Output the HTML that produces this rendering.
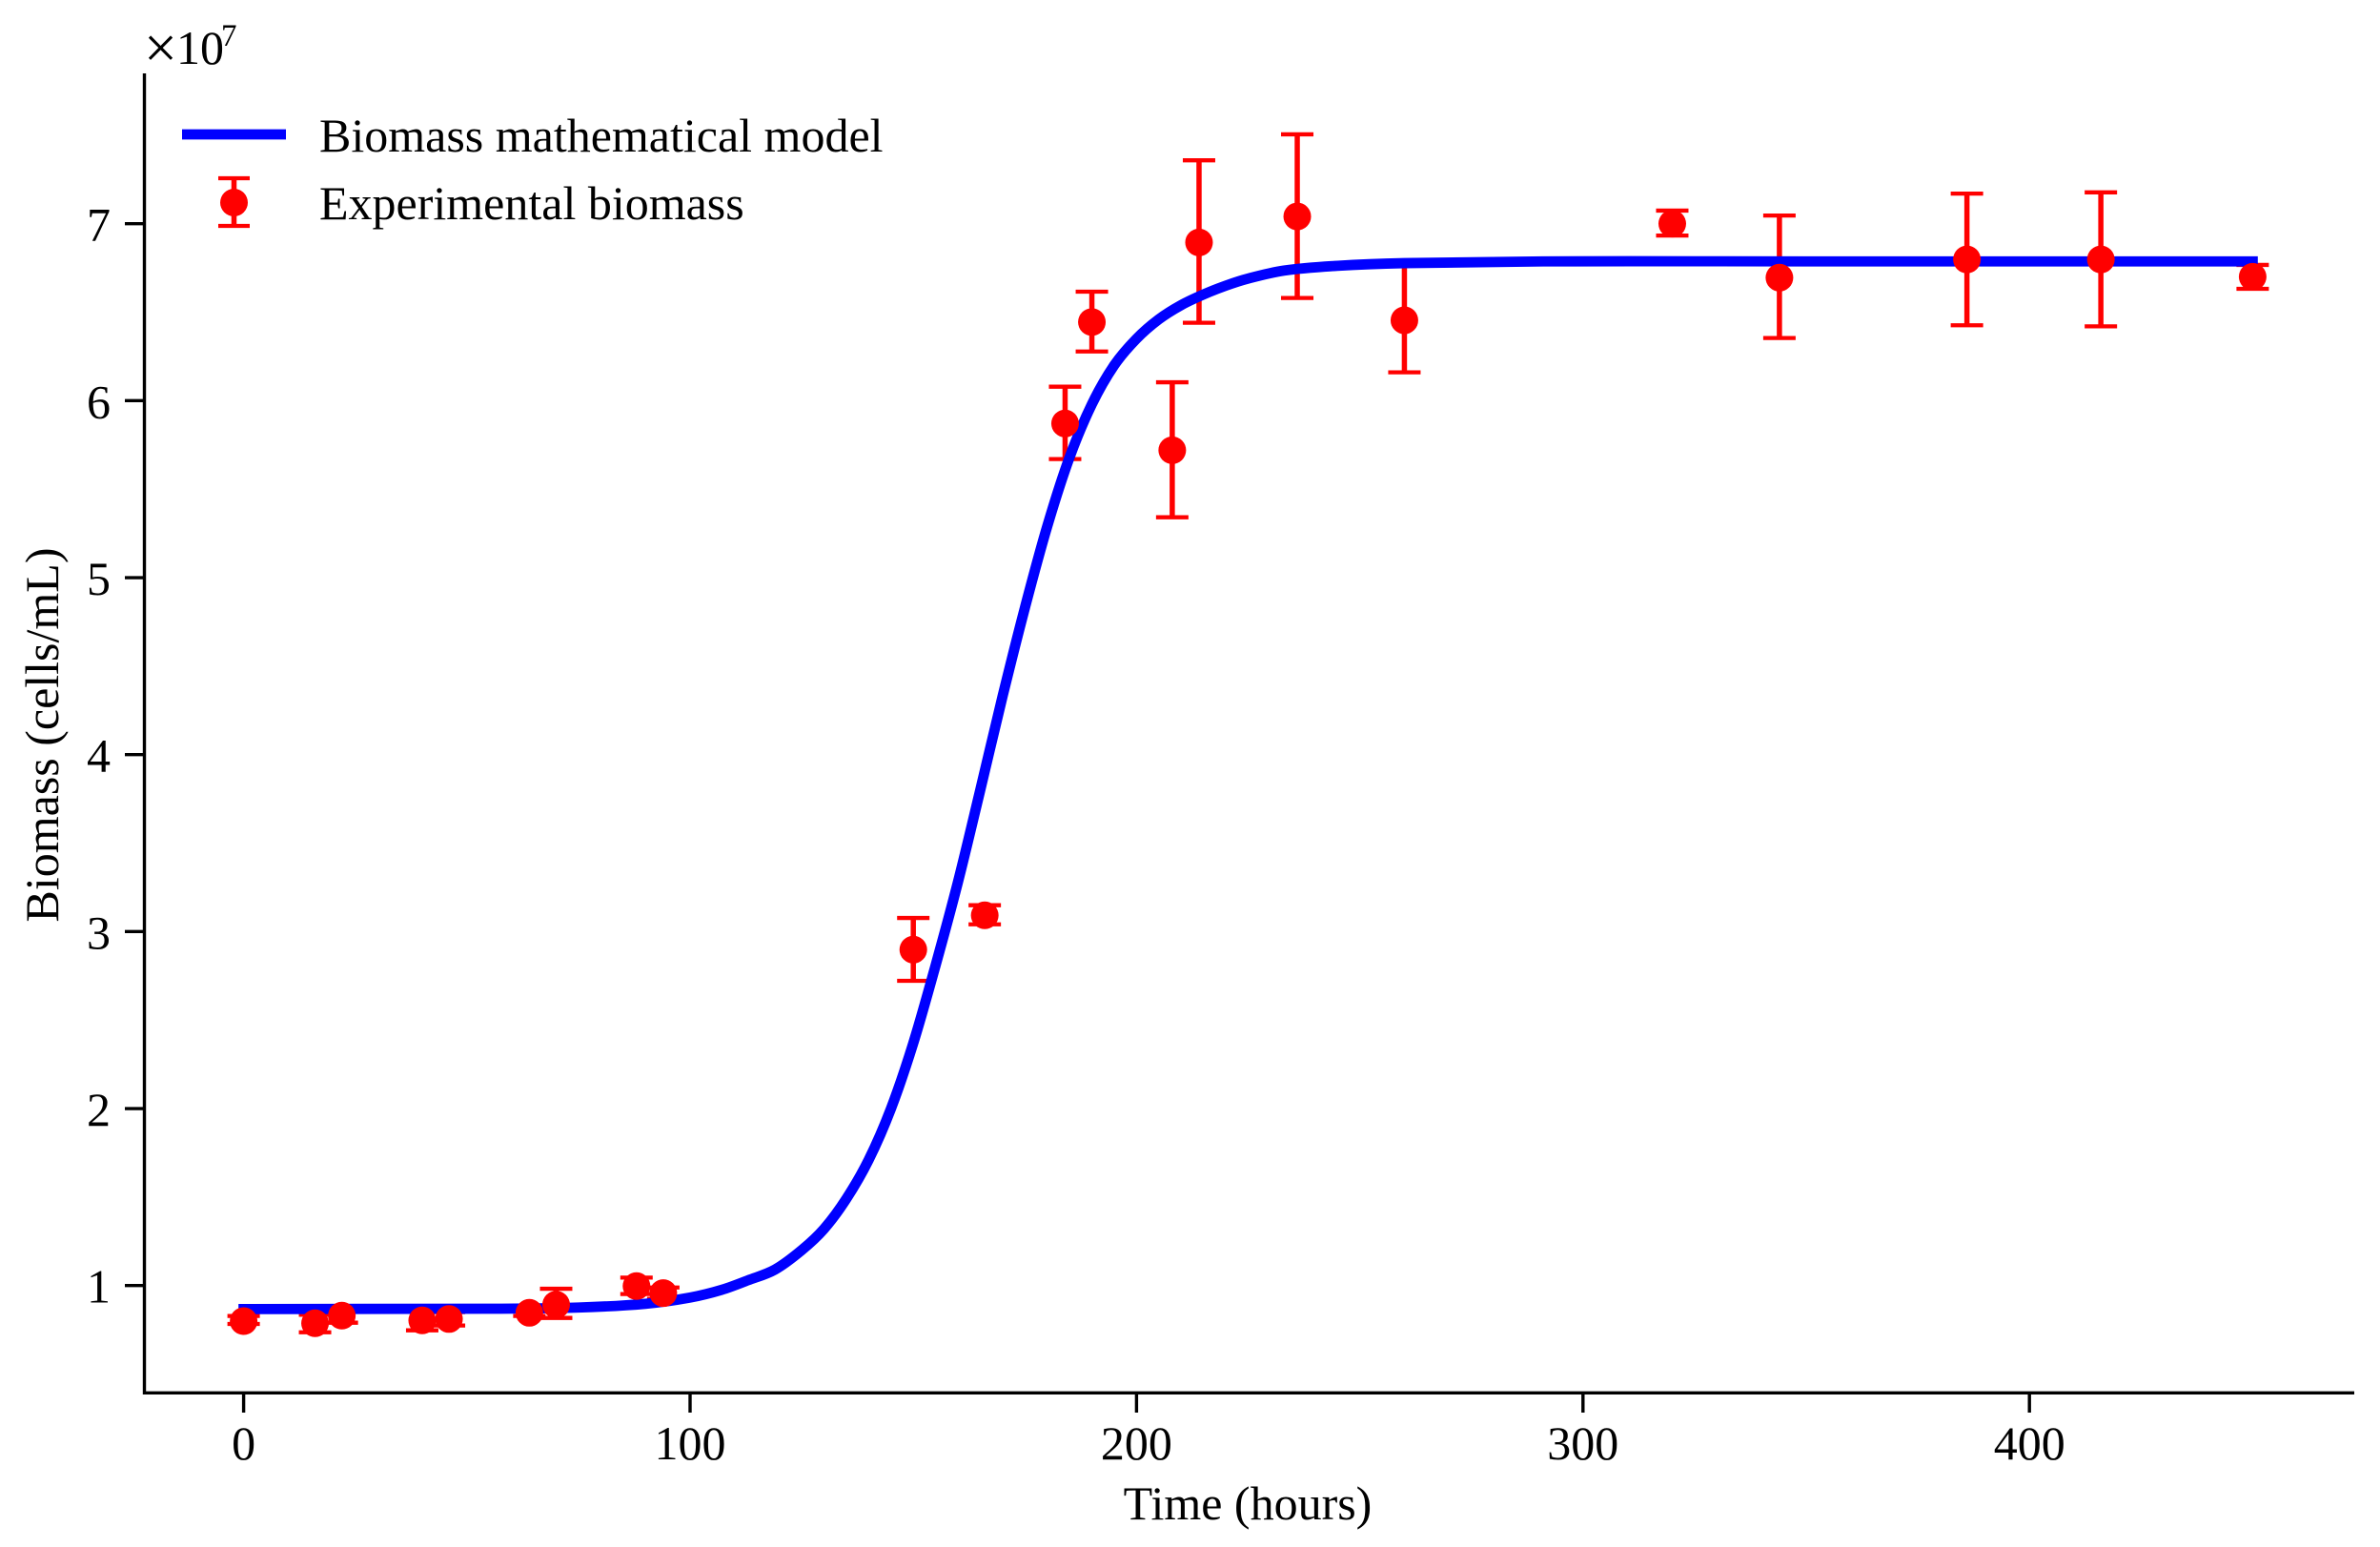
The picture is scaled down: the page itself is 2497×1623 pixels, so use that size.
<!DOCTYPE html>
<html lang="en">
<head>
<meta charset="utf-8">
<title>Biomass growth chart</title>
<style>
  html, body { margin: 0; padding: 0; background: #ffffff; }
  body { width: 2497px; height: 1623px; overflow: hidden; }
  svg { display: block; }
  text { font-family: "Liberation Serif", "Times New Roman", serif; fill: #000000; font-size: 50px; }
</style>
</head>
<body>
<svg id="chart" xmlns="http://www.w3.org/2000/svg" width="2497" height="1623" viewBox="0 0 2497 1623">
  <rect x="0" y="0" width="2497" height="1623" fill="#ffffff"></rect>
  <g id="err-layer"></g>
  <g id="curve-layer"></g>
  <g id="marker-layer"></g>
  <g id="axes-layer"></g>
  <text x="1309" y="1594" text-anchor="middle">Time (hours)</text>
  <text transform="translate(61 771) rotate(-90)" text-anchor="middle">Biomass (cells/mL)</text>
  <text x="151" y="71" style="font-size:62px">×</text>
  <text x="185" y="67">10</text>
  <text x="232" y="48" style="font-size:33px">7</text>
  <g>
    <g>
      <line x1="191" x2="300" y1="141" y2="141" stroke="#0000ff" stroke-width="10.8"></line>
      <text x="335" y="159">Biomass mathematical model</text>
    </g>
    <g>
      <line x1="245.5" x2="245.5" y1="187" y2="237" stroke="#ff0000" stroke-width="5.5"></line>
      <line x1="229" x2="262" y1="187" y2="187" stroke="#ff0000" stroke-width="4.3"></line>
      <line x1="229" x2="262" y1="237" y2="237" stroke="#ff0000" stroke-width="4.3"></line>
      <circle cx="245.5" cy="212.5" r="14.5" fill="#ff0000"></circle>
      <text x="335" y="230">Experimental biomass</text>
    </g>
  </g>
</svg>
<script>
// Chart data, in hours and units of 1e7 cells/mL
const xTickValues = [0, 100, 200, 300, 400];
const yTickValues = [1, 2, 3, 4, 5, 6, 7];
const xTickLabels = ["0", "100", "200", "300", "400"];
const yTickLabels = ["1", "2", "3", "4", "5", "6", "7"];

const sampleTimes = [0, 16, 22, 40, 46, 64, 70, 88, 94, 150, 166, 184, 190, 208, 214, 236, 260, 320, 344, 386, 416, 450];
const sampleMeans = [0.799, 0.787, 0.83, 0.803, 0.811, 0.846, 0.892, 0.997, 0.957, 2.898, 3.092, 5.871, 6.444, 5.72, 6.894, 7.041, 6.454, 7.0, 6.695, 6.798, 6.798, 6.70];
const sampleUpper = [0.828, 0.835, 0.87, 0.86, 0.85, 0.865, 0.982, 1.045, 0.989, 3.077, 3.149, 6.079, 6.616, 6.104, 7.358, 7.505, 6.77, 7.074, 7.046, 7.17, 7.177, 6.767];
const sampleLower = [0.783, 0.736, 0.79, 0.747, 0.774, 0.828, 0.817, 0.952, 0.925, 2.722, 3.041, 5.67, 6.278, 5.341, 6.44, 6.58, 6.16, 6.933, 6.354, 6.426, 6.42, 6.632];

const modelTimes = [0, 54, 75, 90, 100, 107, 113, 119, 125, 130, 135, 140, 145, 150, 155, 160, 165, 170, 175, 180, 185, 190, 195, 200, 205, 210, 215, 220, 225, 233, 245, 260, 291, 350, 450];
const modelValues = [0.867, 0.869, 0.876, 0.897, 0.932, 0.975, 1.03, 1.09, 1.2, 1.32, 1.49, 1.71, 2.0, 2.37, 2.81, 3.28, 3.8, 4.33, 4.83, 5.29, 5.68, 5.98, 6.2, 6.35, 6.46, 6.54, 6.6, 6.65, 6.69, 6.735, 6.762, 6.777, 6.787, 6.787, 6.787];

const SVG_NS = "http://www.w3.org/2000/svg";

function xScale(t) {
  return 255.6 + 4.684 * t;
}
function yScale(v) {
  return 1348.7 - 185.67 * (v - 1);
}
function shape(tag, parent) {
  const el = document.createElementNS(SVG_NS, tag);
  parent.appendChild(el);
  return el;
}
function setLine(el, x1, y1, x2, y2, color, width) {
  el.setAttribute("x1", x1);
  el.setAttribute("y1", y1);
  el.setAttribute("x2", x2);
  el.setAttribute("y2", y2);
  el.setAttribute("stroke", color);
  el.setAttribute("stroke-width", width);
}
// Smooth path through the model readings (uniform Catmull-Rom with clamped ends)
function smoothPath(xs, ys) {
  let d = "M" + xs[0].toFixed(2) + " " + ys[0].toFixed(2);
  for (let i = 0; i < xs.length - 1; i++) {
    const a = Math.max(i - 1, 0);
    const b = Math.min(i + 2, xs.length - 1);
    const span = xs[i + 1] - xs[i];
    const slope1 = (ys[i + 1] - ys[a]) / (xs[i + 1] - xs[a]);
    const slope2 = (ys[b] - ys[i]) / (xs[b] - xs[i]);
    const c1x = xs[i] + span / 3;
    const c1y = ys[i] + slope1 * span / 3;
    const c2x = xs[i + 1] - span / 3;
    const c2y = ys[i + 1] - slope2 * span / 3;
    d += "C" + c1x.toFixed(2) + " " + c1y.toFixed(2) + " " + c2x.toFixed(2) + " " + c2y.toFixed(2) + " " + xs[i + 1].toFixed(2) + " " + ys[i + 1].toFixed(2);
  }
  return d;
}

const errLayer = document.getElementById("err-layer");
const curveLayer = document.getElementById("curve-layer");
const markerLayer = document.getElementById("marker-layer");
const axesLayer = document.getElementById("axes-layer");

// Error bars and caps, drawn under the curve
sampleTimes.forEach(function (t, i) {
  const x = xScale(t);
  const yTop = yScale(sampleUpper[i]);
  const yBot = yScale(sampleLower[i]);
  const bar = shape("line", errLayer);
  
  
  setLine(bar, x, yTop, x, yBot, "#ff0000", 5.5);
  const capTop = shape("line", errLayer);
  
  
  setLine(capTop, x - 17, yTop, x + 17, yTop, "#ff0000", 4.3);
  const capBot = shape("line", errLayer);
  
  
  setLine(capBot, x - 17, yBot, x + 17, yBot, "#ff0000", 4.3);
});

// Model curve
const curve = shape("path", curveLayer);


curve.setAttribute("d", smoothPath(modelTimes.map(xScale), modelValues.map(yScale)));
curve.setAttribute("fill", "none");
curve.setAttribute("stroke", "#0000ff");
curve.setAttribute("stroke-width", "10.8");
curve.setAttribute("stroke-linejoin", "round");
curve.setAttribute("stroke-linecap", "square");

// Markers on top of the curve
sampleTimes.forEach(function (t, i) {
  const dot = shape("circle", markerLayer);
  
  
  dot.setAttribute("cx", xScale(t));
  dot.setAttribute("cy", yScale(sampleMeans[i]));
  dot.setAttribute("r", "14.5");
  dot.setAttribute("fill", "#ff0000");
});

// Axes
const spineLeft = shape("line", axesLayer);


setLine(spineLeft, 151.5, 77, 151.5, 1463, "#000000", 3.4);

const spineBottom = shape("line", axesLayer);


setLine(spineBottom, 150, 1461.3, 2470, 1461.3, "#000000", 3.4);

xTickValues.forEach(function (v, i) {
  const x = xScale(v);
  const tick = shape("line", axesLayer);
  
  
  setLine(tick, x, 1461.3, x, 1482, "#000000", 3.4);
  const label = shape("text", axesLayer);
  
  
  label.setAttribute("x", x);
  label.setAttribute("y", 1531);
  label.setAttribute("text-anchor", "middle");
  label.textContent = xTickLabels[i];
});

yTickValues.forEach(function (v, i) {
  const y = yScale(v);
  const tick = shape("line", axesLayer);
  
  
  setLine(tick, 131, y, 151.5, y, "#000000", 3.4);
  const label = shape("text", axesLayer);
  
  
  label.setAttribute("x", 116);
  label.setAttribute("y", y + 18);
  label.setAttribute("text-anchor", "end");
  label.textContent = yTickLabels[i];
});
</script>
</body>
</html>
